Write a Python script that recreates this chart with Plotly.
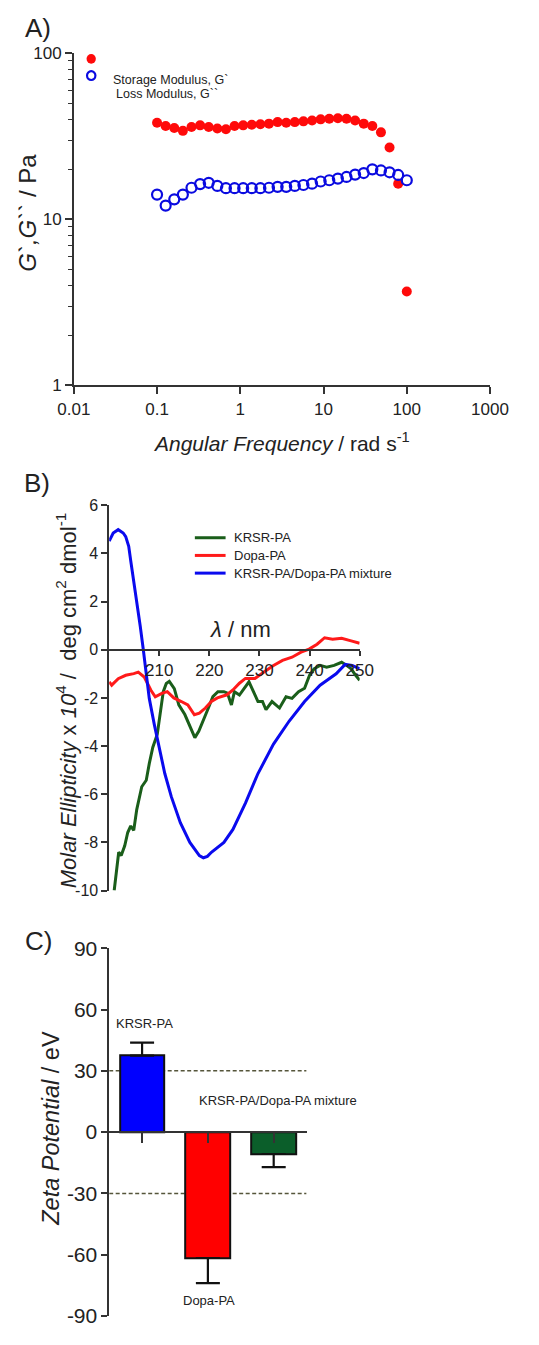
import plotly.graph_objects as go

# The page body keeps the browser's default 8px margin, so the figure is made
# 16px smaller than the window and reference pixel positions are shifted by 8px.
PAGE_W, PAGE_H = 539, 1345
OFF = 8
W, H = PAGE_W - 2 * OFF, PAGE_H - 2 * OFF
FONT = "Liberation Sans, Arial, sans-serif"
NARROW = "Liberation Sans Narrow, Arial Narrow, Liberation Sans, Arial, sans-serif"
AX = "#333333"

# ---------------- Panel A : rheology ----------------
freq = [0.1, 0.1269, 0.1610, 0.2043, 0.2593, 0.3290, 0.4175, 0.5298, 0.6723, 0.8532,
        1.083, 1.374, 1.743, 2.212, 2.807, 3.562, 4.520, 5.736, 7.279, 9.237,
        11.72, 14.87, 18.87, 23.95, 30.39, 38.57, 48.94, 62.10, 78.80, 100.0]
g_storage = [38.2, 36.5, 35.5, 34.1, 36.0, 36.8, 36.0, 35.2, 34.9, 36.5,
             36.8, 37.1, 37.4, 37.7, 38.5, 38.2, 38.5, 38.9, 39.4, 40.0,
             40.3, 40.6, 40.3, 39.4, 37.7, 36.5, 33.4, 27.1, 16.4, 3.68]
g_loss = [14.1, 12.1, 13.2, 14.1, 15.5, 16.3, 16.6, 15.9, 15.4, 15.4,
          15.4, 15.4, 15.4, 15.5, 15.7, 15.7, 15.9, 16.1, 16.4, 16.9,
          17.2, 17.6, 18.0, 18.6, 19.0, 20.0, 19.7, 19.2, 18.5, 17.2]
a_xticks = [0.01, 0.1, 1, 10, 100, 1000]
a_xticktext = ["0.01", "0.1", "1", "10", "100", "1000"]
a_yticks = [1, 10, 100]
a_yminor = [2, 3, 4, 5, 6, 7, 8, 9, 20, 30, 40, 50, 60, 70, 80, 90]

# ---------------- Panel B : CD spectra ----------------
wl_krsr = [201.0, 201.5, 201.9, 202.4, 203.1, 203.7, 204.3, 204.9, 205.5, 206.5,
           207.4, 208.0, 208.7, 209.6, 210.2, 210.8, 211.4, 212.0, 213.0, 213.9,
           215.1, 216.3, 217.1, 217.9, 218.9, 219.8, 220.7, 221.7, 222.9, 223.6,
           224.4, 225.0, 226.0, 226.9, 227.9, 228.8, 229.7, 230.6, 231.3, 232.5,
           233.4, 234.0, 235.3, 236.5, 237.8, 239.0, 240.0, 240.9, 242.1, 243.4,
           244.9, 246.4, 247.4, 248.3, 249.2, 250.0]
cd_krsr = [-10.0, -9.22, -8.41, -8.55, -8.14, -7.59, -7.32, -7.5, -6.64, -5.69,
           -5.42, -4.73, -4.06, -3.51, -2.69, -1.74, -1.4, -1.31, -1.61, -2.29,
           -2.69, -3.24, -3.65, -3.38, -2.83, -2.42, -1.95, -1.74, -1.74, -1.8,
           -2.29, -1.74, -1.88, -1.6, -1.33, -1.74, -2.15, -2.15, -2.49, -2.15,
           -2.29, -2.42, -1.95, -2.02, -1.74, -1.6, -1.06, -0.79, -0.65, -0.72,
           -0.65, -0.52, -0.65, -0.79, -1.06, -1.27]
wl_dopa = [200.0, 200.5, 201.8, 203.3, 204.9, 205.8, 207.0, 208.3, 209.2, 210.5,
           211.6, 212.9, 214.4, 215.7, 217.0, 218.0, 219.2, 220.4, 221.6, 223.5,
           224.7, 226.0, 227.2, 229.1, 230.9, 232.8, 234.6, 236.5, 238.3, 239.9,
           241.5, 243.0, 244.6, 246.4, 248.3, 250.0]
cd_dopa = [-1.33, -1.47, -1.2, -1.06, -0.99, -0.93, -1.13, -1.67, -1.95, -1.81,
           -1.74, -2.0, -2.15, -2.29, -2.7, -2.63, -2.42, -2.15, -2.0, -1.87,
           -1.67, -1.39, -1.19, -1.19, -0.92, -0.65, -0.44, -0.31, -0.1, 0.03,
           0.23, 0.5, 0.44, 0.48, 0.37, 0.27]
wl_mix = [200.0, 200.8, 201.8, 202.8, 203.3, 203.9, 204.3, 204.9, 205.5, 206.2,
          206.8, 207.4, 208.0, 209.0, 210.0, 211.1, 212.4, 214.2, 216.1, 218.0,
          218.8, 219.6, 220.4, 222.9, 224.7, 227.2, 229.7, 232.8, 235.9, 239.0,
          242.1, 245.3, 247.1, 248.5, 250.0]
cd_mix = [4.51, 4.85, 4.99, 4.85, 4.7, 4.3, 3.7, 2.88, 1.93, 0.98,
          0.02, -0.93, -2.02, -3.1, -4.06, -5.14, -6.1, -7.18, -8.0, -8.55,
          -8.64, -8.58, -8.41, -8.0, -7.46, -6.37, -5.14, -3.92, -2.97, -2.15,
          -1.47, -1.0, -0.61, -0.65, -0.79]
cd_names = ["KRSR-PA", "Dopa-PA", "KRSR-PA/Dopa-PA mixture"]
cd_colors = ["#1a5e1a", "#ff1a1a", "#0a0aee"]
b_xticks = [210, 220, 230, 240, 250]
b_yticks = [-10, -8, -6, -4, -2, 0, 2, 4, 6]
b_yrange = [-10, 6]

# ---------------- Panel C : zeta potential ----------------
samples = ["KRSR-PA", "Dopa-PA", "KRSR-PA/Dopa-PA mixture"]
zeta = [37.4, -61.6, -10.7]
zeta_err_up = [6.4, 0, 0]
zeta_err_down = [0, 12.3, 6.4]
bar_colors = ["#0000ff", "#ff0000", "#0b5e2a"]
threshold = [30, -30]
c_yticks = [-90, -60, -30, 0, 30, 60, 90]
c_yrange = [-90, 90]


def px(x):
    return (x - OFF) / W


def py(y):
    return 1 - (y - OFF) / H


fig = go.Figure()

# Panel A traces
fig.add_trace(go.Scatter(x=freq, y=g_storage, mode="markers", xaxis="x", yaxis="y",
                         marker=dict(color="#ff0a0a", size=10, line=dict(width=0)),
                         showlegend=False, cliponaxis=False))
fig.add_trace(go.Scatter(x=freq, y=g_loss, mode="markers", xaxis="x", yaxis="y",
                         marker=dict(symbol="circle-open", color="#0a0ae0", size=10,
                                     line=dict(width=2.2, color="#0a0ae0")),
                         showlegend=False, cliponaxis=False))

# Panel B traces
for wl, cd, nm, col in zip([wl_krsr, wl_dopa, wl_mix], [cd_krsr, cd_dopa, cd_mix],
                           cd_names, cd_colors):
    fig.add_trace(go.Scatter(x=wl, y=cd, mode="lines", name=nm, xaxis="x2", yaxis="y2",
                             line=dict(color=col, width=3), showlegend=False))

# Panel C bars
fig.add_trace(go.Bar(x=[0, 1, 2], y=zeta, width=0.68, xaxis="x3", yaxis="y3",
                     marker=dict(color=bar_colors, line=dict(color="#111111", width=2)),
                     error_y=dict(type="data", symmetric=False, array=zeta_err_up,
                                  arrayminus=zeta_err_down, color="#111111",
                                  thickness=2.2, width=12),
                     showlegend=False, hovertext=samples))

yA = [py(388), py(50)]
yB = [py(902), py(510)]
yC = [py(1335), py(960.7)]
posB = yB[0] + (0 - b_yrange[0]) / (b_yrange[1] - b_yrange[0]) * (yB[1] - yB[0])
posC = yC[0] + (0 - c_yrange[0]) / (c_yrange[1] - c_yrange[0]) * (yC[1] - yC[0])

common = dict(showgrid=False, zeroline=False, showline=True, linecolor=AX, linewidth=1.5,
              ticks="outside", tickcolor=AX, tickwidth=1.5)

fig.update_layout(
    width=W, height=H, margin=dict(l=0, r=0, t=0, b=0),
    paper_bgcolor="white", plot_bgcolor="white",
    font=dict(family=FONT, color="#222222"),
    showlegend=False,
    xaxis=dict(type="log", range=[-2, 3], domain=[px(69), px(516)], anchor="y",
               tickvals=a_xticks, ticktext=a_xticktext, ticklen=7,
               tickfont=dict(size=17, family=FONT), **common),
    yaxis=dict(type="log", range=[0, 2], domain=yA, anchor="x",
               tickvals=a_yticks, ticktext=[str(v) for v in a_yticks], ticklen=7,
               tickfont=dict(size=17, family=NARROW),
               minor=dict(tickvals=a_yminor, ticks="outside", ticklen=4,
                          tickcolor=AX, tickwidth=1.2), **common),
    xaxis2=dict(range=[200, 250], domain=[px(107), px(376)], anchor="free", position=posB,
                tickvals=b_xticks, ticktext=[str(v) for v in b_xticks], ticklen=5,
                tickfont=dict(size=17, family=FONT), **common),
    yaxis2=dict(range=b_yrange, domain=yB, anchor="x2",
                tickvals=b_yticks, ticktext=[str(v) for v in b_yticks],
                ticklen=6, tickfont=dict(size=16, family=FONT), **common),
    xaxis3=dict(range=[-0.5, 2.5], domain=[px(107), px(319)], anchor="free", position=posC,
                tickvals=[0, 1, 2], showticklabels=False, ticklen=10, **common),
    yaxis3=dict(range=c_yrange, domain=yC, anchor="x3",
                tickvals=c_yticks, ticktext=[str(v) for v in c_yticks], ticklen=6,
                tickfont=dict(size=21, family=NARROW), ticklabeloverflow="allow",
                **common),
    bargap=0,
)

# threshold dashed lines in panel C
for t in threshold:
    fig.add_shape(type="line", xref="x3", yref="y3", x0=-0.5, x1=2.5, y0=t, y1=t,
                  line=dict(color="#55553a", width=1.5, dash="4px,2.5px"), layer="below")

# custom legend for panel A
fig.add_shape(type="circle", xref="paper", yref="paper",
              x0=px(82.7), x1=px(92.7), y0=py(60.7), y1=py(50.7),
              fillcolor="#ff0a0a", line=dict(width=0))
fig.add_shape(type="circle", xref="paper", yref="paper",
              x0=px(83.2), x1=px(92.2), y0=py(77.2), y1=py(68.2),
              fillcolor="white", line=dict(color="#0a0ae0", width=2.2))

ann = []


def text(x, y, s, size, xanchor="center", angle=0, family=FONT, color="#222222"):
    ann.append(dict(x=px(x), y=py(y), xref="paper", yref="paper", text=s,
                    showarrow=False, xanchor=xanchor, yanchor="middle", textangle=angle,
                    font=dict(size=size, family=family, color=color)))


text(109, 77, "Storage Modulus, G`", 12.5, xanchor="left")
text(112, 91.5, "Loss Modulus, G``", 12.5, xanchor="left")

# custom legend for panel B
for i, (nm, col) in enumerate(zip(cd_names, cd_colors)):
    yy = 543 + 18 * i
    fig.add_shape(type="line", xref="paper", yref="paper", x0=px(199), x1=px(232),
                  y0=py(yy), y1=py(yy), line=dict(color=col, width=3))
    text(239, yy, nm, 13, xanchor="left")

# panel labels
text(31, 24, "A)", 26)
text(29, 487, "B)", 26)
text(31, 953, "C)", 26)

# axis titles
text(292, 446, "<i>Angular Frequency</i> / rad s<sup>-1</sup>", 21)
text(19, 212, "<i>G`,G``</i> / Pa", 24, angle=-90)
text(248, 636, "<i>λ</i> / nm", 22)
text(61, 708, "<i>Molar Ellipticity</i> x <i>10</i><sup>4</sup> /  deg cm<sup>2</sup> dmol<sup>-1</sup>",
     22, angle=-90)
text(45, 1144, "<i>Zeta Potential</i> / eV", 23.5, angle=-90)

# bar labels in panel C (data coordinates)
bar_label_pos = [(0.04, 53.4), (1.02, -82.4), (2.07, 15.5)]
for name, (bx, by) in zip(samples, bar_label_pos):
    ann.append(dict(x=bx, y=by, xref="x3", yref="y3", text=name, showarrow=False,
                    font=dict(size=13, family=FONT, color="#222222")))

fig.update_layout(annotations=ann)
fig.write_html("out.html")
